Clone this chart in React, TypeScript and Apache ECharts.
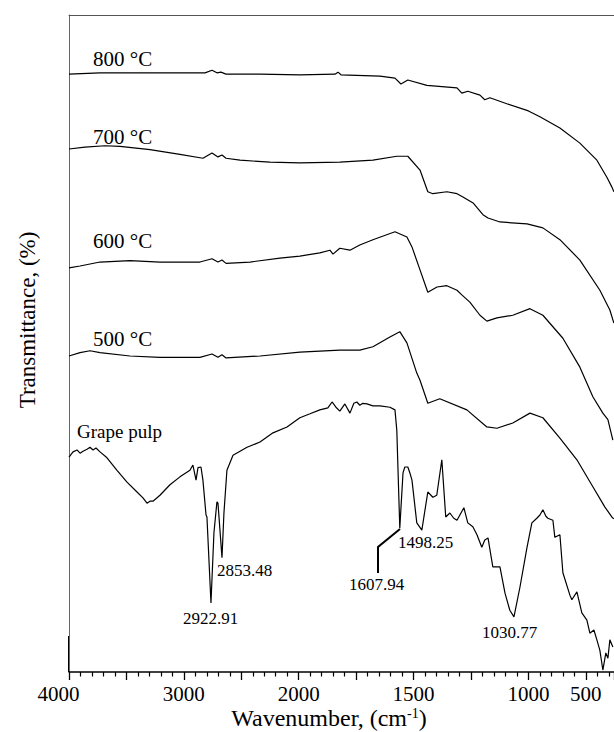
import React, { useEffect, useRef } from "react";
import * as echarts from "echarts";

// Tick labels of the (broken) wavenumber axis: position index -> text
const tickLabels: Record<number, string> = { 0: "4000", 2: "3000", 4: "2000", 6: "1500", 8: "1000", 9: "500" };

// Spectra: [wavenumber (cm-1), transmittance (offset, %)]
const s800: [number, number][] = [
  [4000, 91.0], [3730, 91.2], [3295, 91.2], [2860, 91.2], [2816, 91.2], [2755, 91.6], [2712, 91.2],
  [2677, 91.3], [2633, 91.0], [2337, 91.0], [1995, 90.9], [1842, 91.0], [1829, 91.3], [1816, 90.9],
  [1646, 90.7], [1581, 90.4], [1555, 89.5], [1525, 90.1], [1442, 89.3], [1311, 88.9], [1290, 88.1],
  [1264, 88.4], [1211, 87.8], [1190, 87.1], [1168, 87.4], [1094, 86.5], [1000, 85.4], [900, 84.5],
  [726, 82.8], [552, 80.5], [404, 77.9], [317, 75.3], [273, 73.8], [256, 73.1],
];

const s700: [number, number][] = [
  [4000, 79.6], [3861, 79.9], [3687, 80.1], [3556, 80.0], [3295, 79.5], [3034, 78.8], [2834, 78.2],
  [2755, 79.0], [2703, 78.4], [2668, 78.7], [2633, 78.2], [2511, 77.9], [2250, 77.6], [1995, 77.5],
  [1821, 77.6], [1677, 77.9], [1573, 78.5], [1525, 78.5], [1472, 76.4], [1438, 73.1], [1416, 72.8],
  [1355, 73.1], [1311, 72.8], [1285, 72.3], [1241, 71.4], [1198, 69.6], [1176, 69.1], [1124, 68.5],
  [1006, 68.2], [874, 67.6], [726, 65.8], [552, 62.7], [378, 58.1], [291, 55.1], [256, 53.1],
];

const s600: [number, number][] = [
  [4000, 61.5], [3904, 61.8], [3730, 62.4], [3469, 62.6], [3208, 62.4], [2860, 62.4], [2755, 62.9],
  [2703, 62.4], [2668, 62.7], [2633, 62.2], [2424, 62.4], [2163, 63.0], [1995, 63.3], [1908, 63.8],
  [1864, 64.2], [1851, 63.6], [1821, 64.5], [1777, 64.2], [1734, 65.0], [1677, 65.8], [1581, 67.0],
  [1529, 66.2], [1507, 64.7], [1472, 61.2], [1438, 57.8], [1398, 58.6], [1355, 58.8], [1311, 58.1],
  [1290, 57.4], [1255, 56.3], [1211, 54.3], [1181, 53.4], [1137, 53.9], [1068, 54.3], [987, 55.3],
  [874, 54.3], [700, 50.8], [552, 46.4], [439, 41.9], [352, 39.4], [308, 38.4], [265, 35.3],
];

const s500: [number, number][] = [
  [4000, 48.1], [3904, 48.6], [3817, 48.9], [3730, 48.6], [3469, 48.1], [3208, 47.9], [2860, 47.9],
  [2755, 48.4], [2703, 47.9], [2668, 48.3], [2633, 47.8], [2337, 48.1], [1995, 48.7], [1821, 49.0],
  [1734, 49.0], [1677, 49.5], [1603, 51.0], [1560, 51.8], [1529, 50.1], [1486, 45.5], [1472, 44.4],
  [1438, 40.9], [1386, 41.6], [1268, 39.9], [1181, 37.3], [1137, 37.1], [1068, 37.9], [987, 39.4],
  [874, 38.7], [726, 35.6], [578, 32.3], [439, 28.2], [334, 25.1], [274, 23.6], [256, 23.3],
];

const sGrape: [number, number][] = [
  [4000, 32.7], [3965, 33.5], [3930, 33.8], [3904, 33.3], [3878, 33.6], [3843, 33.9], [3817, 34.2],
  [3791, 33.8], [3765, 34.1], [3730, 33.5], [3669, 32.6], [3582, 30.7], [3495, 28.9], [3408, 27.4],
  [3356, 26.5], [3321, 25.7], [3295, 26.0], [3269, 26.0], [3208, 26.9], [3121, 28.5], [3034, 29.7],
  [2947, 30.7], [2921, 31.5], [2894, 29.2], [2877, 31.1], [2851, 31.2], [2834, 29.2], [2807, 23.9],
  [2799, 23.6], [2764, 10.5], [2738, 21.2], [2712, 25.9], [2703, 25.7], [2668, 17.4], [2651, 24.2],
  [2625, 30.7], [2572, 33.0], [2450, 34.2], [2337, 35.0], [2224, 36.4], [2102, 37.3], [1995, 38.7],
  [1951, 39.3], [1908, 39.9], [1873, 40.2], [1855, 41.1], [1838, 40.3], [1821, 39.7], [1799, 40.8],
  [1777, 39.4], [1760, 40.9], [1747, 41.1], [1734, 40.6], [1721, 40.9], [1703, 40.8], [1677, 40.5],
  [1646, 40.5], [1603, 40.3], [1581, 39.9], [1573, 36.8], [1560, 21.9], [1546, 30.3], [1538, 31.2],
  [1525, 31.2], [1516, 30.3], [1507, 29.2], [1486, 22.7], [1464, 21.6], [1438, 27.4], [1416, 26.6],
  [1399, 26.9], [1377, 32.3], [1360, 23.6], [1342, 24.2], [1325, 23.4], [1311, 23.1], [1281, 25.0],
  [1264, 22.7], [1242, 22.1], [1224, 20.9], [1203, 19.0], [1190, 20.1], [1176, 20.4], [1155, 16.0],
  [1124, 16.0], [1102, 12.0], [1081, 9.4], [1063, 8.4], [1037, 12.9], [1006, 19.0], [970, 22.7],
  [927, 23.4], [900, 23.9], [874, 24.7], [848, 23.7], [831, 23.4], [787, 23.1], [770, 20.5],
  [726, 20.9], [700, 15.1], [639, 11.7], [622, 11.0], [578, 12.2], [535, 9.0], [491, 7.9],
  [465, 5.9], [430, 6.4], [404, 4.9], [378, 3.3], [352, 0.3], [326, 2.9], [308, 2.1], [291, 4.9],
  [265, 3.8],
];

const seriesNames = ["800 °C", "700 °C", "600 °C", "500 °C", "Grape pulp"];
const seriesData = [s800, s700, s600, s500, sGrape];

const peakLabels = ["2922.91", "2853.48", "1607.94", "1498.25", "1030.77"];

// Broken axis: 4000-2000 at 500 per division, 2000-1000 at 250, below 1000 at 500
function toPos(w: number): number {
  if (w >= 2000) return (4000 - w) / 500;
  if (w >= 1000) return 4 + (2000 - w) / 250;
  return 8 + (1000 - w) / 500;
}

const FONT = "'Liberation Serif', 'Times New Roman', serif";

export default function App() {
  const ref = useRef<HTMLDivElement>(null);
  useEffect(() => {
    if (!ref.current) return;
    const chart = echarts.init(ref.current, undefined, { renderer: "svg" });
    const txt = (text: string, x: number, y: number, size: number, align = "left") => ({
      type: "text",
      x,
      y,
      style: { text, fontFamily: FONT, fontSize: size, fill: "#000", textAlign: align, textVerticalAlign: "bottom" },
    });
    chart.setOption({
      animation: false,
      backgroundColor: "#fff",
      grid: { left: 69, right: 0, top: 15, bottom: 60, containLabel: false },
      xAxis: [
        {
          type: "value",
          min: 0,
          max: 9.49,
          interval: 1,
          axisLine: { show: true, lineStyle: { color: "#000", width: 1.5 } },
          axisTick: { show: true, inside: false, length: 8, lineStyle: { color: "#000", width: 1.3 } },
          minorTick: { show: true, splitNumber: 5, length: 4.5, lineStyle: { color: "#000", width: 1.2 } },
          splitLine: { show: false },
          axisLabel: {
            margin: 11,
            fontFamily: FONT,
            fontSize: 21,
            color: "#000",
            showMaxLabel: false,
            formatter: (v: number) => {
              const k = Math.round(v);
              if (Math.abs(v - k) > 1e-6) return "";
              const t = tickLabels[k];
              if (!t) return "";
              return k === 0 ? "{l|" + t + "}" : t;
            },
            rich: { l: { fontFamily: FONT, fontSize: 21, color: "#000", padding: [0, 21, 0, 0] } },
          },
        },
        {
          type: "value",
          position: "top",
          min: 0,
          max: 9.49,
          axisLine: { show: true, lineStyle: { color: "#555", width: 1 } },
          axisTick: { show: false },
          axisLabel: { show: false },
          splitLine: { show: false },
        },
      ],
      yAxis: {
        type: "value",
        min: 0,
        max: 100,
        axisLine: { show: true, lineStyle: { color: "#666", width: 1 } },
        axisTick: { show: false },
        axisLabel: { show: false },
        splitLine: { show: false },
      },
      series: seriesData.map((d, i) => ({
        name: seriesNames[i],
        type: "line",
        showSymbol: false,
        symbol: "none",
        clip: true,
        lineStyle: { color: "#000", width: 1.2 },
        data: d.map(([w, t]) => [toPos(w), t]),
      })),
      graphic: [
        { type: "line", shape: { x1: 69, y1: 636, x2: 69, y2: 672 }, style: { stroke: "#000", lineWidth: 2 } },
        {
          type: "text",
          x: 27,
          y: 320,
          rotation: Math.PI / 2,
          style: {
            text: "Transmittance, (%)",
            fontFamily: FONT,
            fontSize: 23,
            fill: "#000",
            textAlign: "center",
            textVerticalAlign: "middle",
          },
        },
        {
          type: "text",
          x: 329,
          y: 730,
          style: {
            text: "Wavenumber, (cm{sup|-1})",
            fontFamily: FONT,
            fontSize: 24,
            fill: "#000",
            textAlign: "center",
            textVerticalAlign: "bottom",
            rich: { sup: { fontFamily: FONT, fontSize: 14, fill: "#000", verticalAlign: "top", padding: [0, 0, 6, 0] } },
          },
        },
        txt(seriesNames[0], 93, 69, 21),
        txt(seriesNames[1], 93, 147, 21),
        txt(seriesNames[2], 93, 251, 21),
        txt(seriesNames[3], 93, 349, 21),
        txt(seriesNames[4], 77, 441, 19),
        txt(peakLabels[0], 183, 627, 17),
        txt(peakLabels[1], 217, 579, 17),
        txt(peakLabels[2], 349, 593, 17),
        txt(peakLabels[3], 398, 551, 17),
        txt(peakLabels[4], 482, 641, 17),
        {
          type: "polyline",
          shape: { points: [[378, 573], [378, 547], [400, 529]] },
          style: { stroke: "#000", lineWidth: 2, fill: null },
        },
      ],
    });
    return () => chart.dispose();
  }, []);
  return <div ref={ref} style={{ position: "absolute", left: 0, top: 0, width: 614, height: 732 }} />;
}
